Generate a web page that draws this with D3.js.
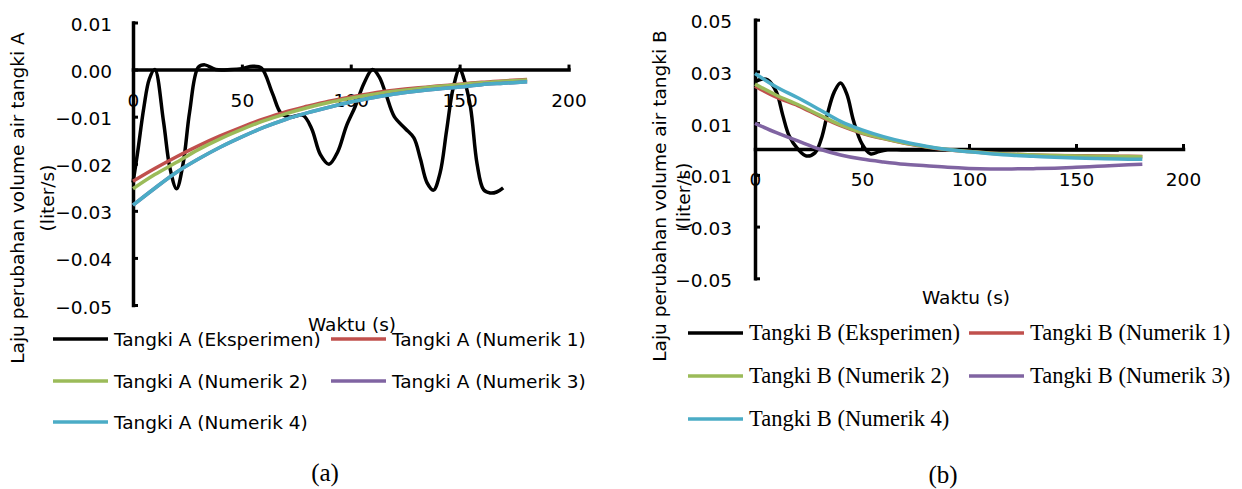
<!DOCTYPE html>
<html><head><meta charset="utf-8">
<script src="https://cdn.jsdelivr.net/npm/d3@7"></script>
<style>body{margin:0;background:#fff}svg{display:block}</style>
</head><body><svg id="c" width="1242" height="489"></svg>
<script>
// ---------- data ----------
const xTicks = [0, 50, 100, 150, 200];
const yTicksA = [0.01, 0, -0.01, -0.02, -0.03, -0.04, -0.05];
const yTicksB = [0.05, 0.03, 0.01, -0.01, -0.03, -0.05];

const numTime = [0,10,20,30,40,50,60,70,80,90,100,110,120,130,140,150,160,170,181];

const expTimeA = [0,2,5,7.5,10,14,17,20,23,26,30,33,38,45,50,55,59,64,68,72,78,82,86,90,94,98,102,106,110,113,116,120,125,129,132,135,138,141,144,147,150,152,155,158,161,164,167,170];
const expA = [-0.024,-0.018,-0.008,-0.002,0,-0.011,-0.021,-0.0253,-0.02,-0.009,0.0005,0.001,0,0,0.0002,0.0007,0.0003,-0.005,-0.0093,-0.0101,-0.0097,-0.0125,-0.018,-0.0201,-0.0175,-0.012,-0.0079,-0.003,0,-0.0015,-0.005,-0.01,-0.0125,-0.0145,-0.019,-0.024,-0.0256,-0.022,-0.013,-0.004,0.0002,-0.002,-0.008,-0.02,-0.0255,-0.0262,-0.026,-0.0251];
const numA1 = [-0.0237,-0.0210,-0.0185,-0.0162,-0.0141,-0.0122,-0.0105,-0.0090,-0.0078,-0.0067,-0.0058,-0.0050,-0.0044,-0.0039,-0.0035,-0.0031,-0.0027,-0.0024,-0.0021];
const numA2 = [-0.0253,-0.0223,-0.0197,-0.0170,-0.0147,-0.0127,-0.0109,-0.0094,-0.0081,-0.0070,-0.0061,-0.0053,-0.0046,-0.0041,-0.0036,-0.0032,-0.0028,-0.0025,-0.0022];
const numA3 = [-0.0288,-0.0252,-0.0218,-0.0190,-0.0165,-0.0143,-0.0123,-0.0106,-0.0092,-0.0080,-0.0069,-0.0060,-0.0052,-0.0046,-0.0041,-0.0037,-0.0032,-0.0029,-0.0026];
const numA4 = [-0.0288,-0.0252,-0.0218,-0.0190,-0.0165,-0.0143,-0.0123,-0.0106,-0.0092,-0.0080,-0.0069,-0.0060,-0.0052,-0.0046,-0.0041,-0.0037,-0.0032,-0.0029,-0.0026];

const expTimeB = [0,3,6,10,13,16,20,24,28,31,34,37,40,43,46,50,54,58,62,70,100,140,170];
const expB = [0.026,0.027,0.0267,0.022,0.013,0.005,0.0,-0.0027,-0.0015,0.004,0.014,0.022,0.0255,0.021,0.011,0.002,-0.0019,-0.001,-0.0003,-0.0004,-0.0004,-0.0004,-0.0004];
const numB1 = [0.0243,0.0200,0.0168,0.0128,0.0090,0.0061,0.0040,0.0022,0.0008,-0.0003,-0.0010,-0.0016,-0.0020,-0.0023,-0.0025,-0.0026,-0.0027,-0.0028,-0.0029];
const numB2 = [0.0251,0.0208,0.0172,0.0132,0.0093,0.0063,0.0041,0.0023,0.0009,-0.0002,-0.0010,-0.0016,-0.0020,-0.0023,-0.0025,-0.0027,-0.0028,-0.0029,-0.0030];
const numB3 = [0.0099,0.0063,0.0031,0.0000,-0.0023,-0.0039,-0.0050,-0.0059,-0.0065,-0.0071,-0.0075,-0.0077,-0.0077,-0.0076,-0.0074,-0.0071,-0.0067,-0.0063,-0.0059];
const numB4 = [0.0292,0.0240,0.0198,0.0153,0.0107,0.0074,0.0048,0.0027,0.0011,-0.0002,-0.0011,-0.0018,-0.0024,-0.0028,-0.0032,-0.0035,-0.0037,-0.0039,-0.0040];

const namesA = ["Tangki A (Eksperimen)","Tangki A (Numerik 1)","Tangki A (Numerik 2)","Tangki A (Numerik 3)","Tangki A (Numerik 4)"];
const namesB = ["Tangki B (Eksperimen)","Tangki B (Numerik 1)","Tangki B (Numerik 2)","Tangki B (Numerik 3)","Tangki B (Numerik 4)"];
const colors = ["#000000","#C0504D","#9BBB59","#8064A2","#4BACC6"];

// ---------- drawing ----------
const svg = d3.select("#c");
const SANS = "DejaVu Sans, Verdana, sans-serif";
const SERIF = "Liberation Serif, Times New Roman, serif";

function panel(cfg) {
  const g = svg.append("g");
  const x = d3.scaleLinear().domain([0, 200]).range(cfg.xRange);
  const y = d3.scaleLinear().domain([cfg.yDomain[0], cfg.yDomain[1]]).range(cfg.yRange);

  const ya = g.append("g").attr("transform", `translate(${x(0)},0)`)
    .call(d3.axisLeft(y).tickValues(cfg.yTicks).tickSizeInner(-5).tickSizeOuter(0)
      .tickPadding(cfg.yPad).tickFormat(cfg.yFmt));
  const xa = g.append("g").attr("transform", `translate(0,${y(0)})`)
    .call(d3.axisBottom(x).tickValues(xTicks).tickSizeInner(-5).tickSizeOuter(0)
      .tickPadding(0).tickFormat(d3.format("d")));
  [ya, xa].forEach(a => {
    a.select(".domain").attr("stroke", "#000").attr("stroke-width", 3.5).attr("stroke-linecap", "square");
    a.selectAll(".tick line").attr("stroke", "#000").attr("stroke-width", 3);
    a.selectAll("text").attr("font-family", SANS).attr("font-size", 18.5).attr("fill", "#000");
  });
  ya.selectAll("text").attr("dy", null).attr("y", 8);
  xa.selectAll("text").attr("dy", null).attr("y", cfg.xLabDy);

  const series = [
    {t: cfg.expTime, v: cfg.exp},
    {t: numTime, v: cfg.num[0]},
    {t: numTime, v: cfg.num[1]},
    {t: numTime, v: cfg.num[2]},
    {t: numTime, v: cfg.num[3]}
  ];
  const line = d3.line().x(d => x(d[0])).y(d => y(d[1])).curve(d3.curveCatmullRom.alpha(0.5));
  series.forEach((s, i) => {
    g.append("path").datum(s.t.map((t, k) => [t, s.v[k]]))
      .attr("d", line).attr("fill", "none").attr("stroke", colors[i])
      .attr("stroke-width", 3.5).attr("stroke-linejoin", "round").attr("stroke-linecap", "butt");
  });

  g.append("text").attr("transform", `translate(${cfg.yTitleX[0]},${cfg.yTitleY}) rotate(-90)`)
    .attr("text-anchor", "middle").attr("font-family", SANS).attr("font-size", 18.5)
    .text(cfg.yTitle);
  g.append("text").attr("transform", `translate(${cfg.yTitleX[1]},${cfg.yTitleY}) rotate(-90)`)
    .attr("text-anchor", "middle").attr("font-family", SANS).attr("font-size", 18.5)
    .text("(liter/s)");
  g.append("text").attr("x", cfg.xTitle[0]).attr("y", cfg.xTitle[1])
    .attr("text-anchor", "middle").attr("font-family", SANS).attr("font-size", 18.5)
    .text("Waktu (s)");

  const pos = [[0,0],[1,0],[0,1],[1,1],[0,2]];
  cfg.names.forEach((n, i) => {
    const sx = cfg.legCols[pos[i][0]], cy = cfg.legRows[pos[i][1]];
    g.append("line").attr("x1", sx).attr("x2", sx + 55).attr("y1", cy).attr("y2", cy)
      .attr("stroke", colors[i]).attr("stroke-width", 3.5);
    g.append("text").attr("x", sx + 61).attr("y", cy + cfg.legDy)
      .attr("font-family", cfg.legFont).attr("font-size", cfg.legSize).text(n);
  });
  g.append("text").attr("x", cfg.cap[0]).attr("y", cfg.cap[1]).attr("text-anchor", "middle")
    .attr("font-family", SERIF).attr("font-size", 25).text(cfg.capText);
}

panel({
  xRange: [133, 568.5], yDomain: [0.01, -0.05], yRange: [22.5, 305],
  yTicks: yTicksA, yPad: 21, yFmt: d3.format(".2f"), xLabDy: 37,
  expTime: expTimeA, exp: expA, num: [numA1, numA2, numA3, numA4],
  yTitle: "Laju perubahan volume air tangki A", yTitleX: [24, 54], yTitleY: 198,
  xTitle: [352, 331], names: namesA, legCols: [53, 331], legRows: [339, 381, 422],
  legDy: 6.5, legFont: SANS, legSize: 18.5, cap: [325, 481], capText: "(a)"
});
panel({
  xRange: [755, 1183], yDomain: [0.05, -0.05], yRange: [19.7, 278.3],
  yTicks: yTicksB, yPad: 23, yFmt: d3.format(".2f"), xLabDy: 37,
  expTime: expTimeB, exp: expB, num: [numB1, numB2, numB3, numB4],
  yTitle: "Laju perubahan volume air tangki B", yTitleX: [666, 690], yTitleY: 196,
  xTitle: [966, 304], names: namesB, legCols: [688, 969], legRows: [333, 376, 419],
  legDy: 6.5, legFont: SERIF, legSize: 22.5, cap: [943, 483], capText: "(b)"
});
</script></body></html>
